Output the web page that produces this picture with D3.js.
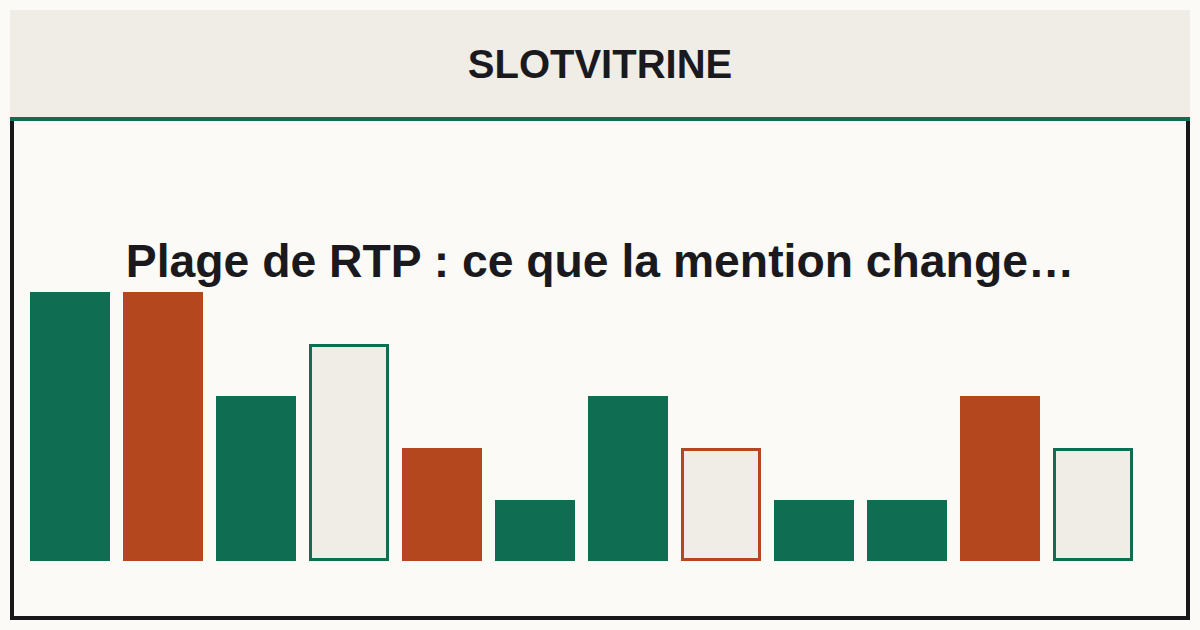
<!DOCTYPE html>
<html><head><meta charset="utf-8">
<script src="https://cdn.jsdelivr.net/npm/d3@7"></script>
<style>html,body{margin:0;padding:0;background:#fbfaf7;}svg{display:block;}</style>
</head><body>
<svg id="c" width="1200" height="630"></svg>
<script>
const brand = "SLOTVITRINE";
const title = "Plage de RTP : ce que la mention change…";
const categories = ["b1","b2","b3","b4","b5","b6","b7","b8","b9","b10","b11","b12"];
const values = [5,5,3,4,2,1,3,2,1,1,3,2];
const colors = ["green","orange","green","green","orange","green","green","orange","green","green","orange","green"];
const styles = ["fill","fill","fill","outline","fill","fill","fill","outline","fill","fill","fill","outline"];

const palette = {green:"#0f6e52", orange:"#b5471f"};
const svg = d3.select("#c");
svg.append("rect").attr("x",0).attr("y",0).attr("width",1200).attr("height",630).attr("fill","#fbfaf7");
svg.append("rect").attr("x",10).attr("y",10).attr("width",1180).attr("height",107).attr("fill","#f0ede6");
svg.append("text").attr("x",600).attr("y",78).attr("text-anchor","middle")
  .attr("font-family","Liberation Sans, Arial, sans-serif").attr("font-weight","bold")
  .attr("font-size",40).attr("fill","#1a1a1e").text(brand);
svg.append("rect").attr("x",12).attr("y",119).attr("width",1176).attr("height",499)
  .attr("fill","#fbfaf7").attr("stroke","#18181b").attr("stroke-width",4);
svg.append("rect").attr("x",10).attr("y",117).attr("width",1180).attr("height",4).attr("fill","#0f6e52");

const x = d3.scaleBand().domain(categories).range([23.5,1139.5]).paddingInner(13/93).paddingOuter(6.5/93);
const y = d3.scaleLinear().domain([-0.173,5]).range([561,292]);
const g = svg.append("g");
g.selectAll("rect").data(categories).join("rect")
  .each(function(d,i){
    const s = d3.select(this);
    const x0 = x(d), w = x.bandwidth(), top = y(values[i]), h = y.range()[0]-top;
    if(styles[i]==="fill"){
      s.attr("x",x0).attr("y",top).attr("width",w).attr("height",h).attr("fill",palette[colors[i]]);
    } else {
      s.attr("x",x0+1.5).attr("y",top+1.5).attr("width",w-3).attr("height",h-3)
       .attr("fill","#f0ede6").attr("stroke",palette[colors[i]]).attr("stroke-width",3);
    }
  });
svg.append("text").attr("x",600).attr("y",277).attr("text-anchor","middle")
  .attr("font-family","Liberation Sans, Arial, sans-serif").attr("font-weight","bold")
  .attr("font-size",46.3).attr("fill","#1a1a1e").text(title);
</script>
</body></html>
